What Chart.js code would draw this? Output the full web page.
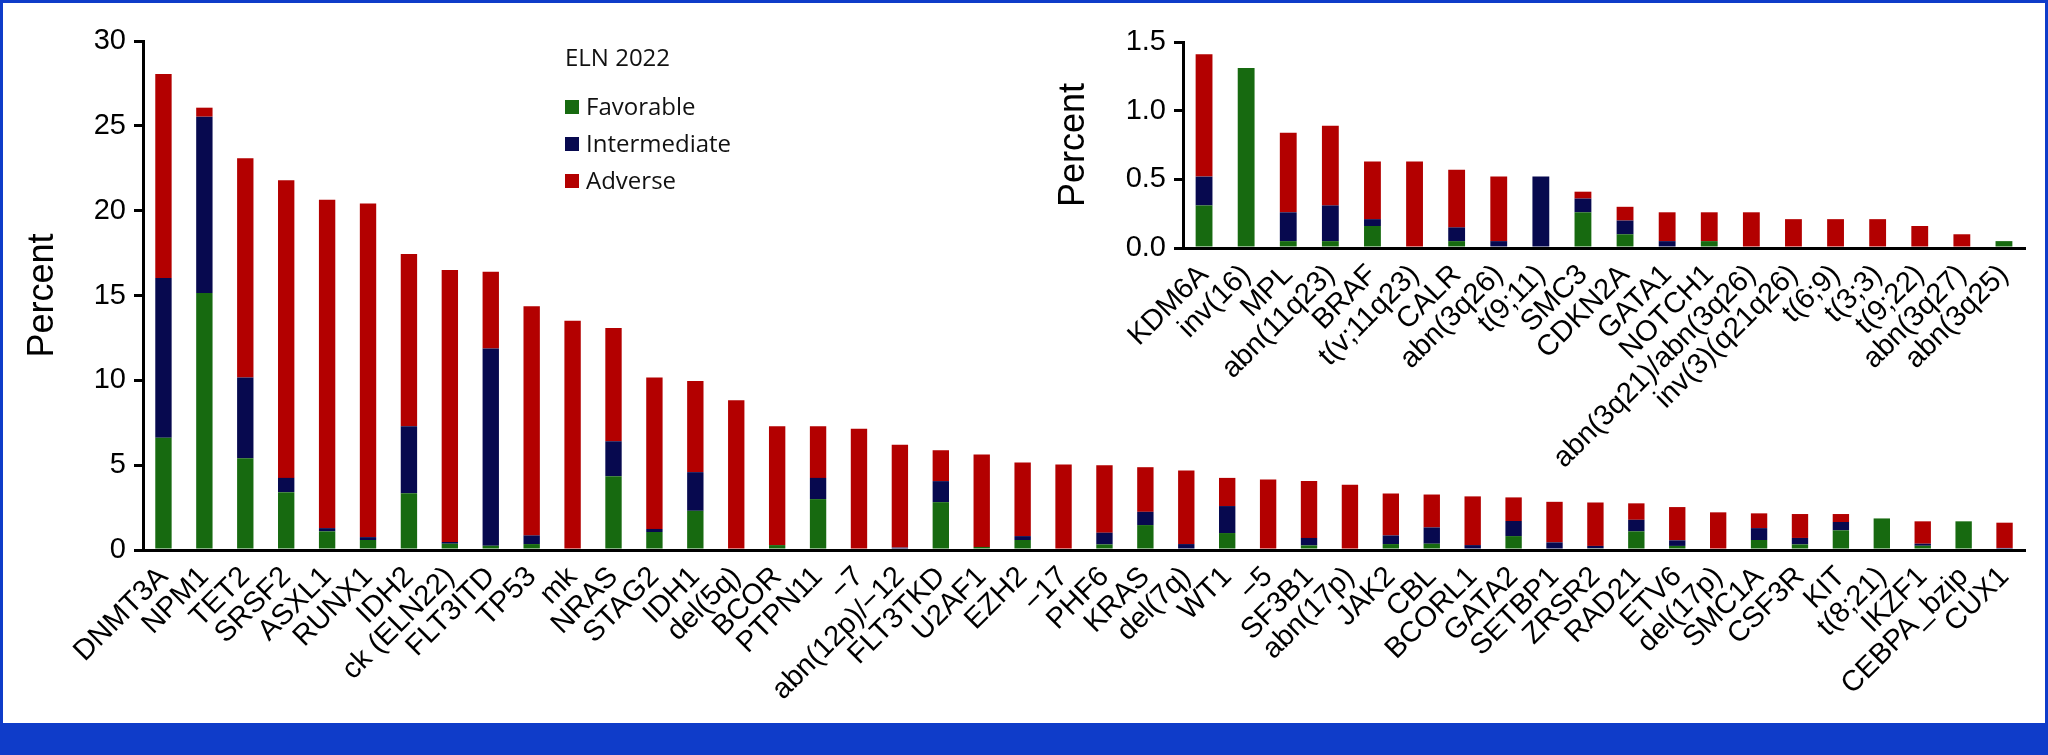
<!DOCTYPE html>
<html>
<head>
<meta charset="utf-8">
<title>ELN 2022 genetic abnormalities</title>
<script src="https://cdn.jsdelivr.net/npm/chart.js@4"></script>
<style>
  html, body { margin: 0; padding: 0; background: #fff; }
  #page { position: relative; width: 2048px; height: 755px; background: #fff; overflow: hidden; }
  #frame { position: absolute; left: 0; top: 0; width: 2048px; height: 723px; box-sizing: border-box;
           border: 3px solid #0f3cc9; border-bottom: none; pointer-events: none; z-index: 5; }
  #band { position: absolute; left: 0; bottom: 0; width: 2048px; height: 32px; background: #0f3cc9; }
  #main-box { position: absolute; left: 0; top: 0; width: 2048px; height: 723px; }
  #inset-box { position: absolute; left: 1040px; top: 0; width: 1008px; height: 480px; }
</style>
</head>
<body>
<div id="page">
  <div id="main-box"><canvas id="main-chart"></canvas></div>
  <div id="inset-box"><canvas id="inset-chart"></canvas></div>
  <div id="frame"></div>
  <div id="band"></div>
</div>
<script>
// ---- data (percent of patients, split by ELN 2022 risk group) ----
const seriesNames = ['Favorable', 'Intermediate', 'Adverse'];
const seriesColors = ['#176a10', '#07094f', '#b30000'];

const mainLabels = [
  'DNMT3A', 'NPM1', 'TET2', 'SRSF2', 'ASXL1', 'RUNX1', 'IDH2', 'ck (ELN22)', 'FLT3ITD', 'TP53',
  'mk', 'NRAS', 'STAG2', 'IDH1', 'del(5q)', 'BCOR', 'PTPN11', '\u22127', 'abn(12p)/\u221212', 'FLT3TKD',
  'U2AF1', 'EZH2', '\u221217', 'PHF6', 'KRAS', 'del(7q)', 'WT1', '\u22125', 'SF3B1', 'abn(17p)',
  'JAK2', 'CBL', 'BCORL1', 'GATA2', 'SETBP1', 'ZRSR2', 'RAD21', 'ETV6', 'del(17p)', 'SMC1A',
  'CSF3R', 'KIT', 't(8;21)', 'IKZF1', 'CEBPA_bzip', 'CUX1'
];
const mainFavorable = [
  6.61, 15.14, 5.41, 3.41, 1.10, 0.59, 3.35, 0.37, 0.25, 0.35,
  0, 4.35, 1.06, 2.31, 0, 0.29, 3.00, 0, 0, 2.82,
  0.18, 0.59, 0, 0.33, 1.47, 0, 1.00, 0, 0.27, 0,
  0.35, 0.37, 0, 0.82, 0, 0.10, 1.10, 0.24, 0, 0.59,
  0.33, 1.16, 1.86, 0.25, 1.69, 0
];
const mainIntermediate = [
  9.42, 10.40, 4.75, 0.84, 0.19, 0.17, 3.94, 0.10, 11.63, 0.51,
  0, 2.06, 0.18, 2.28, 0, 0, 1.25, 0, 0.14, 1.24,
  0, 0.23, 0, 0.69, 0.78, 0.35, 1.59, 0, 0.44, 0,
  0.51, 0.96, 0.29, 0.89, 0.45, 0.14, 0.68, 0.33, 0, 0.70,
  0.38, 0.49, 0, 0.12, 0, 0.12
];
const mainAdverse = [
  12.03, 0.53, 12.93, 17.55, 19.35, 19.66, 10.15, 16.03, 4.52, 13.50,
  13.51, 6.67, 8.92, 5.37, 8.82, 7.00, 3.04, 7.14, 6.06, 1.82,
  5.45, 4.34, 5.04, 3.98, 2.63, 4.34, 1.66, 4.16, 3.35, 3.84,
  2.47, 1.94, 2.87, 1.39, 2.39, 2.56, 0.97, 1.96, 2.22, 0.87,
  1.41, 0.47, 0, 1.32, 0, 1.49
];
const mainTicks = [0, 5, 10, 15, 20, 25, 30];

const insetLabels = [
  'KDM6A', 'inv(16)', 'MPL', 'abn(11q23)', 'BRAF', 't(v;11q23)', 'CALR', 'abn(3q26)', 't(9;11)', 'SMC3',
  'CDKN2A', 'GATA1', 'NOTCH1', 'abn(3q21)/abn(3q26)', 'inv(3)(q21q26)', 't(6;9)', 't(3;3)', 't(9;22)', 'abn(3q27)', 'abn(3q25)'
];
const insetFavorable = [
  0.31, 1.31, 0.05, 0.05, 0.16, 0, 0.05, 0, 0, 0.26,
  0.10, 0, 0.05, 0, 0, 0, 0, 0, 0, 0.05
];
const insetIntermediate = [
  0.21, 0, 0.21, 0.26, 0.05, 0, 0.10, 0.05, 0.52, 0.10,
  0.10, 0.05, 0, 0, 0, 0, 0, 0, 0, 0
];
const insetAdverse = [
  0.89, 0, 0.58, 0.58, 0.42, 0.63, 0.42, 0.47, 0, 0.05,
  0.10, 0.21, 0.21, 0.26, 0.21, 0.21, 0.21, 0.16, 0.10, 0
];
const insetTicks = [0, 0.5, 1.0, 1.5];

// ---- shared styling ----
const tickFont = { family: "'Liberation Sans', Arial, sans-serif", size: 29 };
const labelFont = { family: "'Liberation Sans', Arial, sans-serif", size: 29 };
const titleFont = { family: "'Liberation Sans', Arial, sans-serif", size: 36 };

function makeDatasets(fav, int, adv) {
  return [fav, int, adv].map((vals, i) => ({
    label: seriesNames[i],
    data: vals,
    backgroundColor: seriesColors[i],
    borderWidth: 0,
    barPercentage: 0.4,
    categoryPercentage: 1.0
  }));
}

// ELN legend drawn inside the main plot
const elnLegend = {
  id: 'elnLegend',
  afterDraw(chart) {
    const ctx = chart.ctx;
    const x = 565, y0 = 59, step = 37;
    ctx.save();
    ctx.fillStyle = '#111';
    ctx.textBaseline = 'middle';
    ctx.textAlign = 'left';
    ctx.font = "24px 'Open Sans', 'Liberation Sans', sans-serif";
    ctx.fillText('ELN 2022', x, y0);
    chart.data.datasets.forEach((ds, i) => {
      const cy = y0 + step * (i + 1) + 11;
      ctx.fillStyle = ds.backgroundColor;
      ctx.fillRect(x, cy - 7, 14, 14);
      ctx.fillStyle = '#111';
      ctx.fillText(ds.label, x + 21, cy + 1);
    });
    ctx.restore();
  }
};

function axisOptions(ticks, yWidth, xHeight, titlePad, fmt) {
  return {
    x: {
      stacked: true,
      offset: true,
      grid: { display: false },
      border: { display: true, color: '#000', width: 3 },
      ticks: {
        color: '#000', font: labelFont, autoSkip: false,
        maxRotation: 45, minRotation: 45, padding: 2
      },
      afterFit: (s) => { s.height = xHeight; }
    },
    y: {
      stacked: true,
      min: ticks[0], max: ticks[ticks.length - 1],
      afterBuildTicks: (s) => { s.ticks = ticks.map(v => ({ value: v })); },
      grid: { drawOnChartArea: false, drawTicks: true, tickLength: 9, color: '#000', lineWidth: 3 },
      border: { display: true, color: '#000', width: 3 },
      ticks: { color: '#000', font: tickFont, padding: 8, callback: fmt },
      title: { display: true, text: 'Percent', color: '#000', font: titleFont, padding: { top: titlePad, bottom: 0 } },
      afterFit: (s) => { s.width = yWidth; }
    }
  };
}

const mainChart = new Chart(document.getElementById('main-chart'), {
  type: 'bar',
  data: { labels: mainLabels, datasets: makeDatasets(mainFavorable, mainIntermediate, mainAdverse) },
  options: {
    responsive: true,
    maintainAspectRatio: false,
    animation: false,
    layout: { padding: { left: 0, right: 23, top: 41, bottom: 0 } },
    plugins: { legend: { display: false }, tooltip: { enabled: false } },
    scales: axisOptions(mainTicks, 143, 173, 21, (v) => String(v))
  },
  plugins: [elnLegend]
});

const insetChart = new Chart(document.getElementById('inset-chart'), {
  type: 'bar',
  data: { labels: insetLabels, datasets: makeDatasets(insetFavorable, insetIntermediate, insetAdverse) },
  options: {
    responsive: true,
    maintainAspectRatio: false,
    animation: false,
    layout: { padding: { left: 0, right: 23, top: 42, bottom: 0 } },
    plugins: { legend: { display: false }, tooltip: { enabled: false } },
    scales: axisOptions(insetTicks, 143, 232, 12, (v) => Number(v).toFixed(1))
  }
});
</script>
</body>
</html>
